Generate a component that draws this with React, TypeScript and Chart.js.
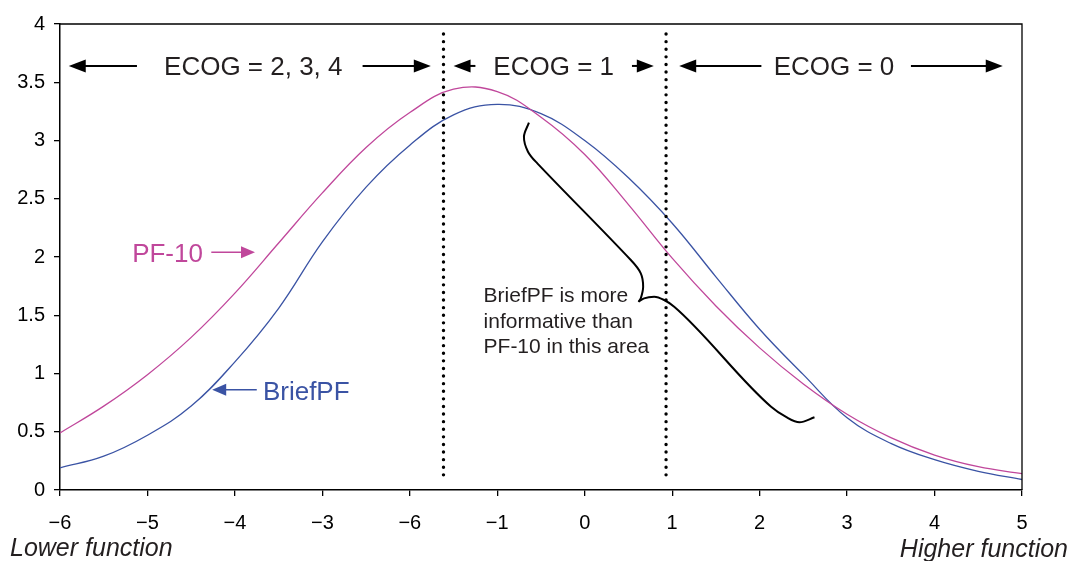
import React, { useEffect, useRef } from "react";
import { Chart, registerables } from "chart.js";

Chart.register(...registerables);

// ---------- data ----------
const xTickValues = [-6, -5, -4, -3, -2, -1, 0, 1, 2, 3, 4, 5];
const xTickLabels = ["−6", "−5", "−4", "−3", "−6", "−1", "0", "1", "2", "3", "4", "5"];
const yTickLabels = ["0", "0.5", "1", "1.5", "2", "2.5", "3", "3.5", "4"];

const thetaX = [-6, -5.5, -5, -4.5, -4, -3.5, -3, -2.5, -2, -1.5, -1, -0.5, 0, 0.5, 1, 1.5, 2, 2.5, 3, 3.5, 4, 4.5, 5];
const pf10Y = [0.49, 0.72, 0.99, 1.31, 1.69, 2.12, 2.55, 2.94, 3.24, 3.44, 3.42, 3.2, 2.88, 2.45, 1.99, 1.58, 1.22, 0.91, 0.65, 0.45, 0.3, 0.2, 0.14];
const briefY = [0.19, 0.29, 0.47, 0.72, 1.1, 1.56, 2.13, 2.6, 2.96, 3.22, 3.31, 3.23, 3.0, 2.68, 2.29, 1.83, 1.38, 0.99, 0.62, 0.4, 0.26, 0.16, 0.09];

// ECOG boundaries (dotted lines)
const ecogCuts = [-1.615, 0.93];
const cutLow = 0.13;
const cutHigh = 3.95;

// ECOG labels and arrows (data coordinates)
const ecogLabels = ["ECOG = 2, 3, 4", "ECOG = 1", "ECOG = 0"];
const ecogCenters = [-3.79, -0.355, 2.85];
const ecogLevel = 3.64;
const ecogArrowTails = [-5.12, -2.54, -1.25, 0.54, 2.02, 3.73];
const ecogArrowTips = [-5.9, -1.76, -1.5, 0.79, 1.08, 4.78];

// series labels
const pfLabel = "PF-10";
const pfLabelPos = [-5.175, 1.957];
const pfArrow = [-4.27, -3.77, 2.04]; // tail x, tip x, y
const briefLabel = "BriefPF";
const briefLabelPos = [-3.68, 0.77];
const briefArrow = [-3.75, -4.26, 0.86];

// note
const noteLines = ["BriefPF is more", "informative than", "PF-10 in this area"];
const noteX = -1.157;
const noteBaselines = [1.614, 1.39, 1.176];

// brace (two halves meeting at the cusp)
const braceUpperX = [-0.638, -0.695, -0.649, -0.542, 0.527, 0.641, 0.668, 0.641, 0.615];
const braceUpperY = [3.153, 3.033, 2.904, 2.804, 1.974, 1.86, 1.745, 1.645, 1.616];
const braceLowerX = [0.615, 0.679, 0.794, 0.908, 1.023, 2.131, 2.302, 2.455, 2.627];
const braceLowerY = [1.616, 1.645, 1.659, 1.631, 1.573, 0.715, 0.627, 0.581, 0.624];

const axisTitleLeft = "Lower function";
const axisTitleRight = "Higher function";

// ---------- styles ----------
const FONT = "'Liberation Sans', Arial, Helvetica, sans-serif";
const PINK = "#C0479B";
const BLUE = "#3A53A4";
const INK = "#231F20";

const zip = (xs: number[], ys: number[]) => xs.map((x, i) => ({ x, y: ys[i] }));

function arrow(ctx: CanvasRenderingContext2D, x0: number, x1: number, y: number, color: string, head = 17, half = 6.5, lw = 2) {
  const dir = Math.sign(x1 - x0) || 1;
  ctx.save();
  ctx.strokeStyle = color;
  ctx.fillStyle = color;
  ctx.lineWidth = lw;
  ctx.beginPath();
  ctx.moveTo(x0, y);
  ctx.lineTo(x1 - dir * (head - 2), y);
  ctx.stroke();
  ctx.beginPath();
  ctx.moveTo(x1, y);
  ctx.lineTo(x1 - dir * head, y - half);
  ctx.lineTo(x1 - dir * head, y + half);
  ctx.closePath();
  ctx.fill();
  ctx.restore();
}

const annotPlugin = {
  id: "annot",
  afterDatasetsDraw(chart: any) {
    const { ctx, chartArea: a, scales } = chart;
    const xs = scales.x;
    const ys = scales.y;
    const px = (v: number) => xs.getPixelForValue(v);
    const py = (v: number) => ys.getPixelForValue(v);
    ctx.save();

    // frame top & right
    ctx.strokeStyle = "#000";
    ctx.lineWidth = 1.3;
    ctx.beginPath();
    ctx.moveTo(a.left, a.top);
    ctx.lineTo(a.right, a.top);
    ctx.lineTo(a.right, a.bottom);
    ctx.stroke();

    // ECOG labels
    const ey = py(ecogLevel);
    ctx.fillStyle = INK;
    ctx.font = `26px ${FONT}`;
    ctx.textAlign = "center";
    ctx.textBaseline = "alphabetic";
    ecogLabels.forEach((t, i) => ctx.fillText(t, px(ecogCenters[i]), ey + 9.5));
    ecogArrowTails.forEach((t, i) => arrow(ctx, px(t), px(ecogArrowTips[i]), ey, "#000"));

    // series labels
    ctx.textAlign = "left";
    ctx.font = `26px ${FONT}`;
    ctx.fillStyle = PINK;
    ctx.fillText(pfLabel, px(pfLabelPos[0]), py(pfLabelPos[1]));
    arrow(ctx, px(pfArrow[0]), px(pfArrow[1]), py(pfArrow[2]), PINK, 14, 6, 1.5);
    ctx.fillStyle = BLUE;
    ctx.fillText(briefLabel, px(briefLabelPos[0]), py(briefLabelPos[1]));
    arrow(ctx, px(briefArrow[0]), px(briefArrow[1]), py(briefArrow[2]), BLUE, 14, 6, 1.5);

    // note
    ctx.fillStyle = INK;
    ctx.font = `21px ${FONT}`;
    noteLines.forEach((t, i) => ctx.fillText(t, px(noteX), py(noteBaselines[i])));

    // axis end titles
    ctx.font = `italic 25px ${FONT}`;
    ctx.fillStyle = INK;
    ctx.textAlign = "left";
    ctx.fillText(axisTitleLeft, a.left - 50, chart.height - 5);
    ctx.textAlign = "right";
    ctx.fillText(axisTitleRight, chart.width - 1, chart.height - 4);

    ctx.restore();
  },
};

export default function App() {
  const ref = useRef<HTMLCanvasElement>(null);

  useEffect(() => {
    document.body.style.margin = "0";
    const lineBase = {
      type: "line" as const,
      pointRadius: 0,
      fill: false,
    };
    const chart = new Chart(ref.current as HTMLCanvasElement, {
      type: "line",
      data: {
        datasets: [
          ...ecogCuts.map((c) => ({
            ...lineBase,
            data: [
              { x: c, y: cutLow },
              { x: c, y: cutHigh },
            ],
            borderColor: "#000",
            borderWidth: 3.4,
            borderDash: [0, 7.6],
            borderCapStyle: "round" as const,
            tension: 0,
          })),
          {
            ...lineBase,
            label: "PF-10",
            data: zip(thetaX, pf10Y),
            borderColor: PINK,
            borderWidth: 1.3,
            tension: 0.4,
          },
          {
            ...lineBase,
            label: "BriefPF",
            data: zip(thetaX, briefY),
            borderColor: BLUE,
            borderWidth: 1.3,
            tension: 0.4,
          },
          {
            ...lineBase,
            data: zip(braceUpperX, braceUpperY),
            borderColor: "#000",
            borderWidth: 2,
            tension: 0.35,
          },
          {
            ...lineBase,
            data: zip(braceLowerX, braceLowerY),
            borderColor: "#000",
            borderWidth: 2,
            cubicInterpolationMode: "monotone" as const,
          },
        ],
      },
      options: {
        responsive: false,
        animation: false,
        layout: { padding: { top: 24, right: 47, left: 0, bottom: 0 } },
        plugins: {
          legend: { display: false },
          tooltip: { enabled: false },
        },
        scales: {
          x: {
            type: "linear",
            min: -6,
            max: 5,
            afterFit: (s: any) => {
              s.height = 71;
            },
            afterBuildTicks: (s: any) => {
              s.ticks = xTickValues.map((v) => ({ value: v }));
            },
            border: { display: true, color: "#000", width: 1.5 },
            grid: { display: true, drawOnChartArea: false, drawTicks: true, tickLength: 6, color: "#000", lineWidth: 1.3 },
            ticks: {
              autoSkip: false,
              maxRotation: 0,
              padding: 15,
              color: "#000",
              font: { family: FONT, size: 20 },
              callback: (v: any) => {
                const i = xTickValues.indexOf(Number(v));
                return i >= 0 ? xTickLabels[i] : "";
              },
            },
          },
          y: {
            type: "linear",
            min: 0,
            max: 4,
            afterFit: (s: any) => {
              s.width = 60;
            },
            afterBuildTicks: (s: any) => {
              s.ticks = yTickLabels.map((_, i) => ({ value: i * 0.5 }));
            },
            border: { display: true, color: "#000", width: 1.5 },
            grid: { display: true, drawOnChartArea: false, drawTicks: true, tickLength: 6, color: "#000", lineWidth: 1.3 },
            ticks: {
              autoSkip: false,
              padding: 9,
              color: "#000",
              font: { family: FONT, size: 20 },
              callback: (v: any) => yTickLabels[Math.round(Number(v) * 2)] ?? "",
            },
          },
        },
      },
      plugins: [annotPlugin],
    });
    return () => chart.destroy();
  }, []);

  return (
    <div style={{ position: "absolute", left: 0, top: 0, width: 1069, height: 561, background: "#fff" }}>
      <canvas ref={ref} width={1069} height={561} style={{ display: "block", width: 1069, height: 561 }} />
    </div>
  );
}
